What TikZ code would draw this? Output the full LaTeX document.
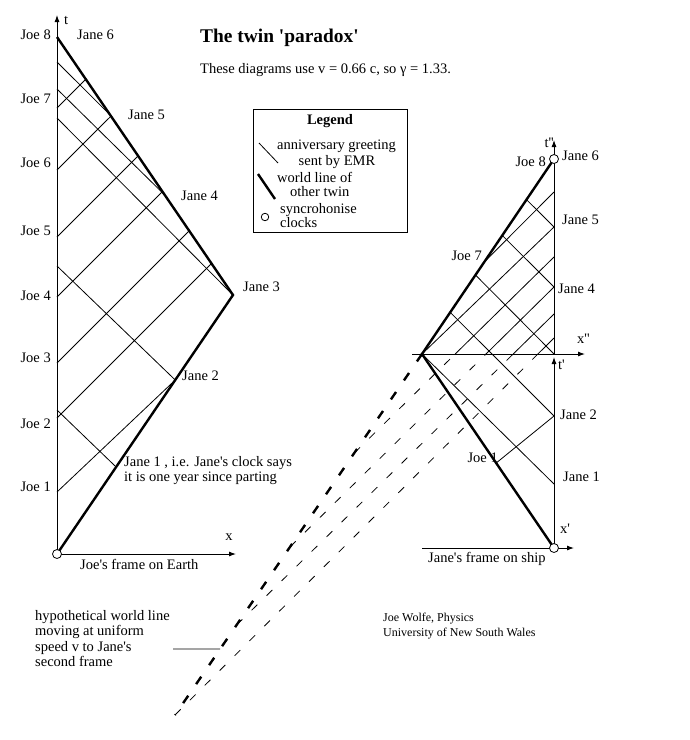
\documentclass[tikz,border=0pt]{standalone}
\usetikzlibrary{arrows.meta,calc}
\font\myLab="Liberation Serif" at 14.5pt
\font\myBold="Liberation Serif/B" at 14.5pt
\font\myTitle="Liberation Serif/B" at 19.4pt
\font\myCred="Liberation Serif" at 12pt
\begin{document}
\begin{tikzpicture}[x=1pt,y=-1pt,
 greet/.style={line width=0.8pt},
 greetdash/.style={line width=0.8pt,dash pattern=on 8pt off 13pt},
 wline/.style={line width=2.4pt},
 wdash/.style={line width=2.4pt,dash pattern=on 9pt off 14pt},
 axisline/.style={line width=0.9pt,-{Latex[length=7pt,width=5pt]}},
 lbl/.style={font=\myLab,inner sep=0pt,text height=10pt,text depth=3pt},
 cred/.style={font=\myCred,inner sep=0pt,text height=8.5pt,text depth=2.5pt},
 clock/.style={circle,draw,fill=white,line width=0.8pt,minimum size=9pt,inner sep=0pt},
]
\path[use as bounding box,fill=white] (0,0) rectangle (690,740);

% ---------------- left diagram: Joe's frame ----------------
\coordinate (O) at (57,554);
\coordinate (T) at (233,295);
\coordinate (E) at (57,37);
\coordinate (Ltip) at (57,15);
\coordinate (Xtip) at (236,554);
\coordinate (J1) at ($(O)!0.3359!(T)$);
\coordinate (J2) at ($(O)!0.6718!(T)$);
\coordinate (J4) at ($(E)!0.6124!(T)$);
\coordinate (J5) at ($(E)!0.3023!(T)$);
\coordinate (A1) at (57,492);
\coordinate (A2) at (57,418);
\coordinate (A3) at (57,363);
\coordinate (A4) at (57,297);
\coordinate (A5) at (57,237);
\coordinate (A6) at (57,170);
\coordinate (A7) at (57,108);
\coordinate (B2) at ($(E)!0.8779!(T)$);
\coordinate (B3) at ($(E)!0.7512!(T)$);
\coordinate (B4) at ($(E)!0.5992!(T)$);
\coordinate (B5) at ($(E)!0.4609!(T)$);
\coordinate (B6) at ($(E)!0.3066!(T)$);
\coordinate (B7) at ($(E)!0.1636!(T)$);
\coordinate (C1) at (57,410);
\coordinate (C2) at (57,266);
\coordinate (C3) at (57,118);
\coordinate (C4) at (57,89);
\coordinate (C5) at (57,62);

% Joe's greetings
\draw[greet] (A1) -- (J2);
\draw[greet] (A2) -- (B2);
\draw[greet] (A3) -- (B3);
\draw[greet] (A4) -- (B4);
\draw[greet] (A5) -- (B5);
\draw[greet] (A6) -- (B6);
\draw[greet] (A7) -- (B7);
% Jane's greetings
\draw[greet] (J1) -- (C1);
\draw[greet] (J2) -- (C2);
\draw[greet] (T) -- (C3);
\draw[greet] (J4) -- (C4);
\draw[greet] (J5) -- (C5);
% world line of Jane
\draw[wline] (O) -- (T) -- (E);
% axes
\draw[axisline] (O) -- (Ltip);
\draw[axisline] (O) -- (Xtip);
\node[clock] (clkO) at (O) {};

\node[lbl,anchor=west] (tlab) at (64,21) {t};
\node[lbl] (xlab) at (229,537) {x};
\node[lbl,anchor=east] (joe8) at (51,36) {Joe 8};
\node[lbl,anchor=east] (joe7) at (51,100) {Joe 7};
\node[lbl,anchor=east] (joe6) at (51,164) {Joe 6};
\node[lbl,anchor=east] (joe5) at (51,232) {Joe 5};
\node[lbl,anchor=east] (joe4) at (51,297) {Joe 4};
\node[lbl,anchor=east] (joe3) at (51,359) {Joe 3};
\node[lbl,anchor=east] (joe2) at (51,425) {Joe 2};
\node[lbl,anchor=east] (joe1) at (51,488) {Joe 1};
\node[lbl,anchor=west] (jane6) at (77,36) {Jane 6};
\node[lbl,anchor=west] (jane5) at (128,116) {Jane 5};
\node[lbl,anchor=west] (jane4) at (181,197) {Jane 4};
\node[lbl,anchor=west] (jane3) at (243,288) {Jane 3};
\node[lbl,anchor=west] (jane2) at (182,377) {Jane 2};
\node[lbl,anchor=west] (jane1a) at (124,463) {Jane 1 , i.e. Jane's clock says};
\node[lbl,anchor=west] (jane1b) at (124,478) {it is one year since parting};
\node[lbl,anchor=west] (earth) at (80,566) {Joe's frame on Earth};

% ---------------- title ----------------
\node[font=\myTitle,inner sep=0pt,anchor=west] (title) at (200,38) {The twin 'paradox'};
\node[lbl,anchor=west] (sub) at (200,70) {These diagrams use v = 0.66 c, so γ = 1.33.};

% ---------------- legend ----------------
\node[draw,line width=0.8pt,anchor=north west,minimum width=154pt,minimum height=123pt,inner sep=0pt] (legend) at (253,109) {};
\node[font=\myBold,inner sep=0pt,text height=10pt,text depth=3pt] (leghead) at (330,121) {Legend};
\coordinate (lgA) at (259,143);
\coordinate (lgB) at (278,163);
\draw[greet] (lgA) -- (lgB);
\node[lbl,anchor=west] (lg1) at (277,146) {anniversary greeting};
\node[lbl] (lg2) at (337,162) {sent by EMR};
\coordinate (lgC) at (258,174);
\coordinate (lgD) at (275,199);
\draw[wline] (lgC) -- (lgD);
\node[lbl,anchor=west] (lg3) at (277,179) {world line of};
\node[lbl,anchor=west] (lg4) at (290,193) {other twin};
\node[clock,minimum size=7.5pt] (lgclk) at (265,217) {};
\node[lbl,anchor=west] (lg5) at (280,210) {syncrohonise};
\node[lbl,anchor=west] (lg6) at (280,224) {clocks};

% ---------------- right diagram: Jane's frames ----------------
\coordinate (R0) at (554,548);
\coordinate (V) at (422,354);
\coordinate (R8) at (554,159);
\coordinate (H) at (175,715);
\coordinate (Q1) at (554,484);
\coordinate (Q2) at (554,416);
\coordinate (Q3) at (554,354);
\coordinate (Q4) at (554,287);
\coordinate (Q5) at (554,227);
\coordinate (W7) at (554,192);
\coordinate (P1) at ($(V)!0.5619!(R0)$);
\coordinate (S2) at ($(V)!0.2138!(R8)$);
\coordinate (S3) at ($(V)!0.4051!(R8)$);
\coordinate (S4) at ($(V)!0.6082!(R8)$);
\coordinate (S5) at ($(V)!0.7918!(R8)$);
\coordinate (K7) at ($(V)!0.4718!(R8)$);
\coordinate (D1) at ($(V)!0.2742!(H)$);
\coordinate (D2) at ($(V)!0.5346!(H)$);
\coordinate (D3) at ($(V)!0.7507!(H)$);
\coordinate (X1) at (455.2,354);
\coordinate (X2) at (486,354);
\coordinate (X3) at (513.2,354);
\coordinate (X4) at (537.9,354);
\coordinate (U1) at (554,257);
\coordinate (U2) at (554,287);
\coordinate (U3) at (554,314);
\coordinate (U4) at (554,338);
\coordinate (PH) at ($(V)!0.8172!(H)$);
\coordinate (ptr) at (173,649);
\coordinate (xppL) at (412,354);
\coordinate (xppR) at (585,354);
\coordinate (xpL) at (422,548);
\coordinate (xpR) at (574,548);
\coordinate (tpTip) at (554,357);
\coordinate (tppTip) at (554,140);

% hypothetical greetings (dashed below x'', solid above)
\draw[greetdash] (D1) -- (X1);
\draw[greetdash] (D2) -- (X2);
\draw[greetdash] (D3) -- (X3);
\draw[greetdash] (H) -- (X4);
\draw[greet] (X1) -- (U1);
\draw[greet] (X2) -- (U2);
\draw[greet] (X3) -- (U3);
\draw[greet] (X4) -- (U4);
% Joe's greetings
\draw[greet] (P1) -- (Q2);
\draw[greet] (V) -- (Q5);
\draw[greet] (K7) -- (W7);
% Jane's greetings
\draw[greet] (Q1) -- (V);
\draw[greet] (Q2) -- (S2);
\draw[greet] (Q3) -- (S3);
\draw[greet] (Q4) -- (S4);
\draw[greet] (Q5) -- (S5);
% world lines of Joe
\draw[wline] (R0) -- (V) -- (R8);
\draw[wdash] (V) -- (H);
\draw[greet] (ptr) -- (PH);
% axes
\draw[axisline] (xppL) -- (xppR);
\draw[axisline] (xpL) -- (xpR);
\draw[axisline] (R0) -- (tpTip);
\draw[axisline] (Q3) -- (tppTip);
\node[clock] (clkTop) at (R8) {};
\node[clock] (clkBot) at (R0) {};

\node[lbl,anchor=east] (tpp) at (554,144) {t''};
\node[lbl,anchor=east] (joe8r) at (546,163) {Joe 8};
\node[lbl,anchor=west] (jane6r) at (562,157) {Jane 6};
\node[lbl,anchor=west] (jane5r) at (562,221) {Jane 5};
\node[lbl,anchor=west] (jane4r) at (558,290) {Jane 4};
\node[lbl,anchor=west] (xpp) at (577,340) {x''};
\node[lbl,anchor=west] (tp) at (558,366) {t'};
\node[lbl,anchor=west] (jane2r) at (560,416) {Jane 2};
\node[lbl,anchor=west] (jane1r) at (563,478) {Jane 1};
\node[lbl,anchor=west] (xp) at (560,530) {x'};
\node[lbl,anchor=west] (ship) at (428,559) {Jane's frame on ship};
\node[lbl,anchor=east] (joe7r) at (482,257) {Joe 7};
\node[lbl,anchor=east] (joe1r) at (498,459) {Joe 1};

% ---------------- notes ----------------
\node[lbl,anchor=west] (hyp1) at (35,617) {hypothetical world line};
\node[lbl,anchor=west] (hyp2) at (35,632) {moving at uniform};
\node[lbl,anchor=west] (hyp3) at (35,648) {speed v to Jane's};
\node[lbl,anchor=west] (hyp4) at (35,663) {second frame};
\node[cred,anchor=west] (cred1) at (383,618) {Joe Wolfe, Physics};
\node[cred,anchor=west] (cred2) at (383,633) {University of New South Wales};
\end{tikzpicture}
\end{document}
